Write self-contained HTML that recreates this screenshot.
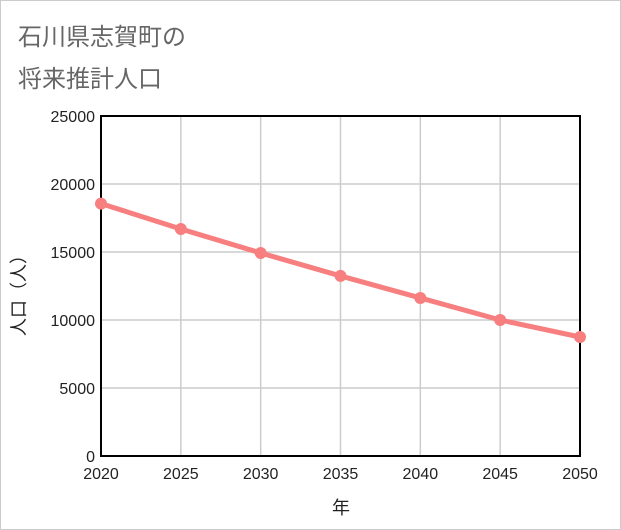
<!DOCTYPE html>
<html><head><meta charset="utf-8">
<style>
body{margin:0;background:#fff;}
#wrap{position:relative;width:619px;height:528px;border:1px solid #ccc;background:#fff;font-family:"Liberation Sans","Noto Sans CJK JP",sans-serif;}
.title{position:absolute;left:17px;font-size:24px;color:#666;}
</style></head>
<body>
<div id="wrap">
<div class="title" style="top:16px">石川県志賀町の</div>
<div class="title" style="top:58px">将来推計人口</div>
<svg id="chart" width="619" height="528" style="position:absolute;left:0;top:0"></svg>
</div>
<script>
const years=[2020,2025,2030,2035,2040,2045,2050];
const population=[18560,16690,14930,13240,11620,10000,8750];
const yTicks=[0,5000,10000,15000,20000,25000];
const NS="http://www.w3.org/2000/svg";
const svg=document.getElementById('chart');
const L=100,R=579,T=115,B=455;
const xs=v=>L+(v-2020)/30*(R-L);
const ys=v=>B-v/25000*(B-T);
function mk(tag,attrs){const e=document.createElementNS(NS,tag);for(const k in attrs)e.setAttribute(k,attrs[k]);svg.appendChild(e);return e;}
years.forEach(y=>{const g=mk('line',{x1:xs(y),x2:xs(y),y1:T,y2:B,stroke:'#ccc','stroke-width':1.5});


const t=mk('text',{x:xs(y),y:B+23,'text-anchor':'middle','font-size':16,fill:'#222'});t.textContent=y;

});
yTicks.forEach(v=>{const g=mk('line',{x1:L,x2:R,y1:ys(v),y2:ys(v),stroke:'#ccc','stroke-width':1.5});


const t=mk('text',{x:L-6,y:ys(v)+6,'text-anchor':'end','font-size':16,fill:'#222'});t.textContent=v;

});
const frame=mk('rect',{x:L,y:T,width:R-L,height:B-T,fill:'none',stroke:'#000','stroke-width':2});


const line=mk('polyline',{points:years.map((y,i)=>xs(y)+','+ys(population[i])).join(' '),fill:'none',stroke:'#f77f7f','stroke-width':5});


years.forEach((y,i)=>{const c=mk('circle',{cx:xs(y),cy:ys(population[i]),r:6,fill:'#f77f7f'});

});
const yl=mk('text',{x:24,y:290,'text-anchor':'middle','font-size':18,fill:'#222',transform:'rotate(-90 24 290)'});yl.textContent='人口（人）';


const xl=mk('text',{x:340,y:513,'text-anchor':'middle','font-size':18,fill:'#222'});xl.textContent='年';


</script>
</body></html>
